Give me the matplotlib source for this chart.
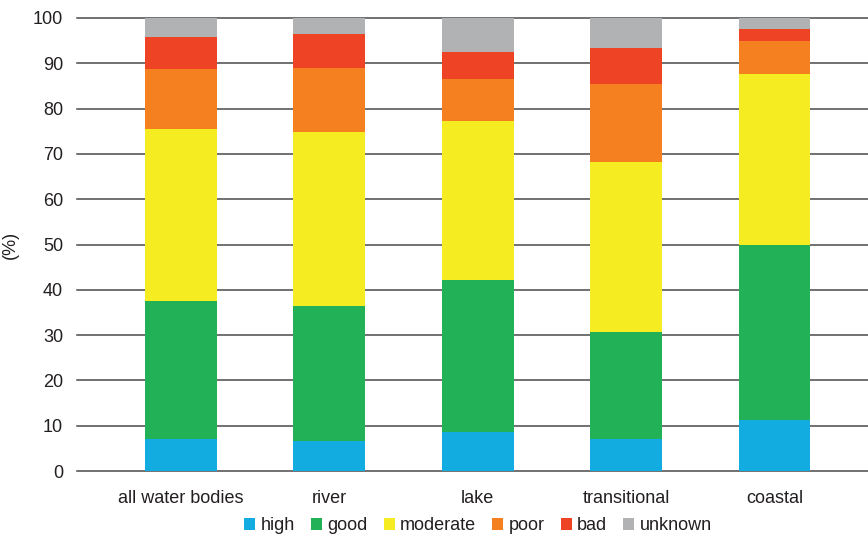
import matplotlib
matplotlib.use("Agg")
import matplotlib.pyplot as plt
from matplotlib.patches import Patch
import numpy as np

plt.rcParams['font.family'] = ['Liberation Sans Narrow', 'Liberation Sans', 'DejaVu Sans']

categories = ["all water bodies", "river", "lake", "transitional", "coastal"]
status = ["high", "good", "moderate", "poor", "bad", "unknown"]
high = [7.1, 6.6, 8.6, 7.1, 11.3]
good = [30.4, 29.8, 33.5, 23.6, 38.6]
moderate = [37.9, 38.4, 35.1, 37.5, 37.7]
poor = [13.3, 14.1, 9.3, 17.2, 7.3]
bad = [7.0, 7.5, 6.1, 7.9, 2.6]
unknown = [4.3, 3.6, 7.4, 6.7, 2.5]
series = [high, good, moderate, poor, bad, unknown]
colors = ["#13ACE0", "#22B157", "#F5EC22", "#F58020", "#EE4325", "#B1B2B4"]
yticks = [0, 10, 20, 30, 40, 50, 60, 70, 80, 90, 100]

fig = plt.figure(figsize=(8.68, 5.4), dpi=100)
ax = fig.add_axes([77 / 868, 1 - 471 / 540, 1 - 77 / 868, (471 - 18) / 540])

x = np.arange(len(categories))
bottom = np.zeros(len(categories))
for vals, col in zip(series, colors):
    ax.bar(x, vals, width=0.485, bottom=bottom, color=col, zorder=3, linewidth=0)
    bottom += np.array(vals)

ax.set_ylim(0, 100)
ax.set_xlim(-0.70, 4.63)
ax.set_yticks(yticks)
ax.set_yticklabels([str(t) for t in yticks])
ax.set_xticks(x)
ax.set_xticklabels(categories)
ax.tick_params(axis='both', length=0, labelsize=13, colors="#231F20")
ax.tick_params(axis='y', pad=10)
ax.tick_params(axis='x', pad=14)
for t in yticks:
    ax.axhline(t, color="#4a4a4a", linewidth=1.1, zorder=1, clip_on=False)
for s in ax.spines.values():
    s.set_visible(False)
ax.set_ylabel("(%)", fontsize=13, color="#231F20")
ax.yaxis.set_label_coords(-58 / 791, 0.5)

handles = [Patch(facecolor=c, edgecolor='none') for c in colors]
fig.legend(handles, status, loc='center', bbox_to_anchor=(478 / 868, 1 - 526 / 540),
           ncol=6, frameon=False, fontsize=13, handlelength=0.6, handleheight=0.6,
           handletextpad=0.3, columnspacing=0.9, labelcolor="#231F20")

fig.savefig("out.png", dpi=100)
